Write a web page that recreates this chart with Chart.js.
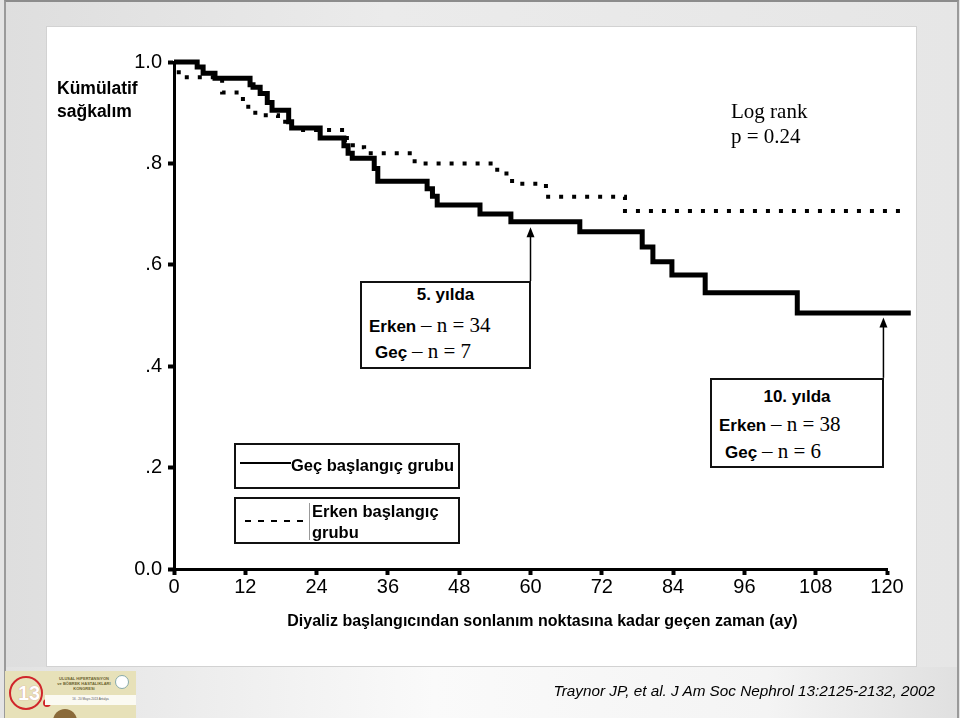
<!DOCTYPE html>
<html lang="tr">
<head>
<meta charset="UTF-8">
<title>Kümülatif sağkalım</title>
<script src="https://cdn.jsdelivr.net/npm/chart.js@4"></script>
<style>
  * { margin: 0; padding: 0; box-sizing: border-box; }
  body { width: 960px; height: 718px; overflow: hidden; background: #e4e4e4; font-family: 'Liberation Sans', Arial, sans-serif; color: #000; }
  .frame { position: absolute; left: 4px; top: 0; width: 955px; height: 718px; border-top: 2px solid #8c8c8c; border-left: 2px solid #9a9a9a; border-right: 2px solid #9a9a9a;
    background: linear-gradient(to right, #dedede, #ebebeb 40%, #e6e6e6); }
  .strip { position: absolute; left: 6px; top: 667px; width: 951px; height: 51px; background: linear-gradient(to right, #e2e2e2, #fafafa 45%, #f4f4f4 80%, #e0e0e0); }
  .panel { position: absolute; left: 46px; top: 26px; width: 871px; height: 641px; background: #fff; border: 1px solid #d2d2d2; }
  canvas { position: absolute; left: 0; top: 0; }
  .t { position: absolute; line-height: 1; white-space: nowrap; }
  .b { font-weight: bold; }
  .serif { font-family: 'Liberation Serif', 'Times New Roman', serif; }
  .box { position: absolute; border: 2px solid #111; background: #fff; }
  .logo { position: absolute; left: 5px; top: 671px; width: 131px; height: 47px; background: #e7e1b9; overflow: hidden; }
</style>
</head>
<body>
<div class="frame"></div>
<div class="strip"></div>
<div class="panel"></div>

<div class="logo">
  <div style="position:absolute;left:4px;top:5px;width:34px;height:34px;border:2px solid #d0262b;border-radius:50%;"></div>
  <div style="position:absolute;left:13px;top:11px;font:bold 20px 'Liberation Sans',sans-serif;color:#fff;text-shadow:0 0 1px #c77;">13</div>
  <div style="position:absolute;left:38px;top:28px;width:8px;height:8px;border:2px solid #d0262b;border-radius:50%;"></div>
  <div style="position:absolute;left:44px;top:5px;width:70px;font:bold 4px 'Liberation Sans',sans-serif;color:#6b6330;text-align:center;line-height:5px;">ULUSAL HİPERTANSİYON<br>ve BÖBREK HASTALIKLARI<br>KONGRESİ</div>
  <div style="position:absolute;left:110px;top:4px;width:14px;height:14px;border-radius:50%;background:#fff;border:1px solid #8aa;"></div>
  <div style="position:absolute;left:40px;top:24px;width:91px;height:10px;background:#fbfaf2;font:3px sans-serif;color:#555;text-align:center;padding-top:2px;">16 - 20 Mayıs 2013 Antalya</div>
  <div style="position:absolute;left:48px;top:38px;width:24px;height:24px;border-radius:50%;background:#8a6a3a;"></div>
</div>

<canvas id="km" width="960" height="718"></canvas>

<!-- axis titles -->
<div class="t b" style="left:57px;top:80px;font-size:17.5px;">Kümülatif</div>
<div class="t b" style="left:57px;top:103px;font-size:17.5px;">sağkalım</div>
<div class="t b" style="left:262px;top:613px;width:561px;text-align:center;font-size:16px;">Diyaliz başlangıcından sonlanım noktasına kadar geçen zaman (ay)</div>

<!-- log rank -->
<div class="t serif" style="left:731px;top:101px;font-size:21px;">Log rank</div>
<div class="t serif" style="left:731px;top:126px;font-size:21px;">p = 0.24</div>

<!-- 5th year box -->
<div class="box" style="left:360px;top:281px;width:171px;height:88px;"></div>
<div class="t b" style="left:360px;top:286px;width:171px;text-align:center;font-size:17px;">5. yılda</div>
<div class="t" style="left:369px;top:315px;font-size:17px;"><span class="b">Erken</span> <span class="serif" style="font-size:21px;">– n = 34</span></div>
<div class="t" style="left:375px;top:341px;font-size:17px;"><span class="b">Geç</span> <span class="serif" style="font-size:21px;">– n = 7</span></div>

<!-- 10th year box -->
<div class="box" style="left:710px;top:378px;width:174px;height:90px;"></div>
<div class="t b" style="left:710px;top:388px;width:174px;text-align:center;font-size:17px;">10. yılda</div>
<div class="t" style="left:719px;top:414px;font-size:17px;"><span class="b">Erken</span> <span class="serif" style="font-size:21px;">– n = 38</span></div>
<div class="t" style="left:725px;top:441px;font-size:17px;"><span class="b">Geç</span> <span class="serif" style="font-size:21px;">– n = 6</span></div>

<!-- legend boxes -->
<div class="box" style="left:234px;top:443px;width:226px;height:46px;"></div>
<div style="position:absolute;left:240px;top:462px;width:51px;height:2px;background:#000;"></div>
<div class="t b" style="left:291px;top:457px;font-size:16.5px;">Geç başlangıç grubu</div>
<div class="box" style="left:234px;top:497px;width:226px;height:47px;"></div>
<div style="position:absolute;left:245px;top:520px;width:60px;height:2px;background:repeating-linear-gradient(to right,#000 0 6px,transparent 6px 13px);"></div>
<div style="position:absolute;left:309px;top:503px;width:1px;height:37px;background:#999;"></div>
<div class="t b" style="left:312px;top:503px;font-size:16.5px;">Erken başlangıç</div>
<div class="t b" style="left:312px;top:524px;font-size:16.5px;">grubu</div>

<!-- citation -->
<div class="t" style="left:500px;top:683px;width:435px;text-align:right;font-size:15.3px;font-style:italic;">Traynor JP, et al. J Am Soc Nephrol 13:2125-2132, 2002</div>

<script>
// Geç başlangıç grubu (solid) - months and survival
const lateMonths = [0, 3.9, 4.9, 6.9, 12.8, 13.3, 14.5, 15.7, 16.5, 19.3, 19.8, 24.6, 28.6, 29.3, 30.0, 33.7, 34.3, 42.6, 43.5, 44.3, 51.5, 56.7, 68.3, 78.8, 80.6, 83.8, 89.4, 104.9, 124]
const lateSurv = [1.0, 0.99, 0.978, 0.968, 0.955, 0.95, 0.938, 0.92, 0.905, 0.882, 0.87, 0.85, 0.835, 0.82, 0.81, 0.79, 0.765, 0.75, 0.735, 0.718, 0.70, 0.685, 0.665, 0.635, 0.606, 0.58, 0.545, 0.505, 0.505]

// Erken başlangıç grubu (dashed)
const earlyMonths = [0, 0.8, 8.1, 11.6, 12.5, 15.0, 17.5, 19.9, 29.1, 29.6, 31.5, 32.0, 40.5, 54.4, 56.9, 62.6, 75.9, 122.7]
const earlySurv = [1.0, 0.97, 0.94, 0.92, 0.90, 0.895, 0.882, 0.866, 0.846, 0.836, 0.832, 0.82, 0.80, 0.78, 0.76, 0.734, 0.706, 0.706]

const xTicks = [0, 12, 24, 36, 48, 60, 72, 84, 96, 108, 120]
const yTicks = [0, 0.2, 0.4, 0.6, 0.8, 1.0]
const yTickLabels = ['0.0', '.2', '.4', '.6', '.8', '1.0']

// arrows from the 5th / 10th year boxes up to the curve: [month, from, to]
const arrows = [[60, 0.568, 0.674], [119.4, 0.377, 0.496]]

const toPoints = (xs, ys) => xs.map((x, i) => ({ x, y: ys[i] }))

const tickFont = { family: "'Liberation Sans', Arial, sans-serif", size: 20 }

const arrowPlugin = {
  id: 'arrows',
  afterDatasetsDraw(chart) {
    const { ctx, scales: { x, y } } = chart
    ctx.save()
    ctx.strokeStyle = '#000'
    ctx.fillStyle = '#000'
    ctx.lineWidth = 1.5
    for (const [m, from, to] of arrows) {
      const px = x.getPixelForValue(m)
      const y0 = y.getPixelForValue(from)
      const y1 = y.getPixelForValue(to)
      ctx.beginPath()
      ctx.moveTo(px, y0)
      ctx.lineTo(px, y1 + 6)
      ctx.stroke()
      ctx.beginPath()
      ctx.moveTo(px, y1)
      ctx.lineTo(px - 4, y1 + 10)
      ctx.lineTo(px + 4, y1 + 10)
      ctx.closePath()
      ctx.fill()
    }
    ctx.restore()
  }
}

new Chart(document.getElementById('km'), {
  type: 'line',
  data: {
    datasets: [
      {
        label: 'Geç başlangıç grubu',
        data: toPoints(lateMonths, lateSurv),
        borderColor: '#000',
        borderWidth: 5,
        stepped: 'before',
        borderJoinStyle: 'miter',
        clip: false,
        pointRadius: 0
      },
      {
        label: 'Erken başlangıç grubu',
        data: toPoints(earlyMonths, earlySurv),
        borderColor: '#000',
        borderWidth: 4,
        borderDash: [4, 9],
        borderCapStyle: 'butt',
        stepped: 'before',
        clip: false,
        pointRadius: 0
      }
    ]
  },
  options: {
    responsive: false,
    animation: false,
    devicePixelRatio: 1,
    layout: { padding: { top: 62, right: 73, left: 0, bottom: 0 } },
    plugins: { legend: { display: false }, tooltip: { enabled: false } },
    scales: {
      x: {
        type: 'linear',
        min: 0,
        max: 120,
        afterFit: s => { s.height = 149 },
        afterBuildTicks: s => { s.ticks = xTicks.map(v => ({ value: v })) },
        ticks: { color: '#000', font: tickFont, padding: 0, maxRotation: 0, autoSkip: false },
        grid: { drawOnChartArea: false, tickLength: 6, tickWidth: 4, tickColor: '#000' },
        border: { color: '#000', width: 3 }
      },
      y: {
        min: 0,
        max: 1,
        afterFit: s => { s.width = 174 },
        afterBuildTicks: s => { s.ticks = yTicks.map(v => ({ value: v })) },
        ticks: {
          color: '#000',
          font: tickFont,
          padding: 6,
          autoSkip: false,
          callback: v => yTickLabels[yTicks.findIndex(t => Math.abs(t - v) < 1e-6)]
        },
        grid: { drawOnChartArea: false, tickLength: 6, tickWidth: 4, tickColor: '#000' },
        border: { color: '#000', width: 3 }
      }
    }
  },
  plugins: [arrowPlugin]
})
</script>
</body>
</html>
